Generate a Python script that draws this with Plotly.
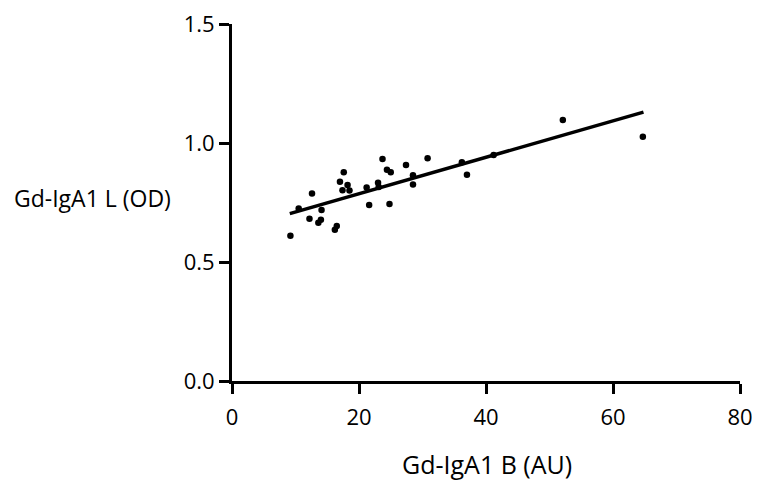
import plotly.graph_objects as go

# Scatter data: Gd-IgA1 B (AU) vs Gd-IgA1 L (OD)
gd_b = [9.2, 10.5, 12.2, 12.6, 13.6, 14.0, 14.1, 16.2, 16.5, 17.0, 17.4, 17.6,
        18.2, 18.5, 21.2, 21.6, 23.0, 23.1, 23.7, 24.4, 24.8, 25.0, 27.4, 28.5,
        28.5, 30.8, 36.2, 37.0, 41.2, 52.1, 64.7]
gd_l = [0.610, 0.725, 0.682, 0.788, 0.665, 0.678, 0.719, 0.635, 0.651, 0.837,
        0.801, 0.877, 0.824, 0.800, 0.813, 0.740, 0.833, 0.815, 0.933, 0.888,
        0.744, 0.877, 0.908, 0.865, 0.826, 0.936, 0.919, 0.867, 0.950, 1.097,
        1.026]

# Regression line endpoints as drawn
fit_x = [9.1, 64.8]
fit_y = [0.703, 1.130]

x_ticks = [0, 20, 40, 60, 80]
y_ticks = [0.0, 0.5, 1.0, 1.5]

FONT = "Open Sans"
TICK_SIZE = 22

fig = go.Figure()
fig.add_trace(go.Scatter(x=fit_x, y=fit_y, mode="lines",
                         line=dict(color="black", width=3.5), showlegend=False))
fig.add_trace(go.Scatter(x=gd_b, y=gd_l, mode="markers",
                         marker=dict(color="black", size=6.5), showlegend=False))

fig.update_layout(
    template="none",
    width=760, height=485,
    margin=dict(l=224, r=28, t=16, b=112, autoexpand=False),
    plot_bgcolor="white", paper_bgcolor="white",
    font=dict(family=FONT, size=TICK_SIZE, color="black"),
    xaxis=dict(range=[0, 80], tickvals=x_ticks, showgrid=False, zeroline=False,
               showline=True, linecolor="black", linewidth=3, automargin=False,
               ticks="outside", ticklen=10, tickwidth=3, tickcolor="black",
               ticklabelstandoff=5, ticklabeloverflow="allow",
               tickfont=dict(family=FONT, size=TICK_SIZE)),
    yaxis=dict(range=[0, 1.5], tickvals=y_ticks, tickformat=".1f", showgrid=False,
               zeroline=False, showline=True, linecolor="black", linewidth=3,
               automargin=False, ticklabeloverflow="allow",
               ticks="outside", ticklen=10, tickwidth=3, tickcolor="black",
               tickfont=dict(family=FONT, size=TICK_SIZE)),
    annotations=[
        dict(text="Gd-IgA1 L (OD)", xref="paper", yref="paper",
             x=-0.116, y=0.513, xanchor="right", yanchor="middle",
             showarrow=False, font=dict(family=FONT, size=23)),
        dict(text="Gd-IgA1 B (AU)", xref="paper", yref="paper",
             x=0.502, y=-0.232, xanchor="center", yanchor="middle",
             showarrow=False, font=dict(family=FONT, size=25)),
    ],
)

fig.write_html("out.html")
